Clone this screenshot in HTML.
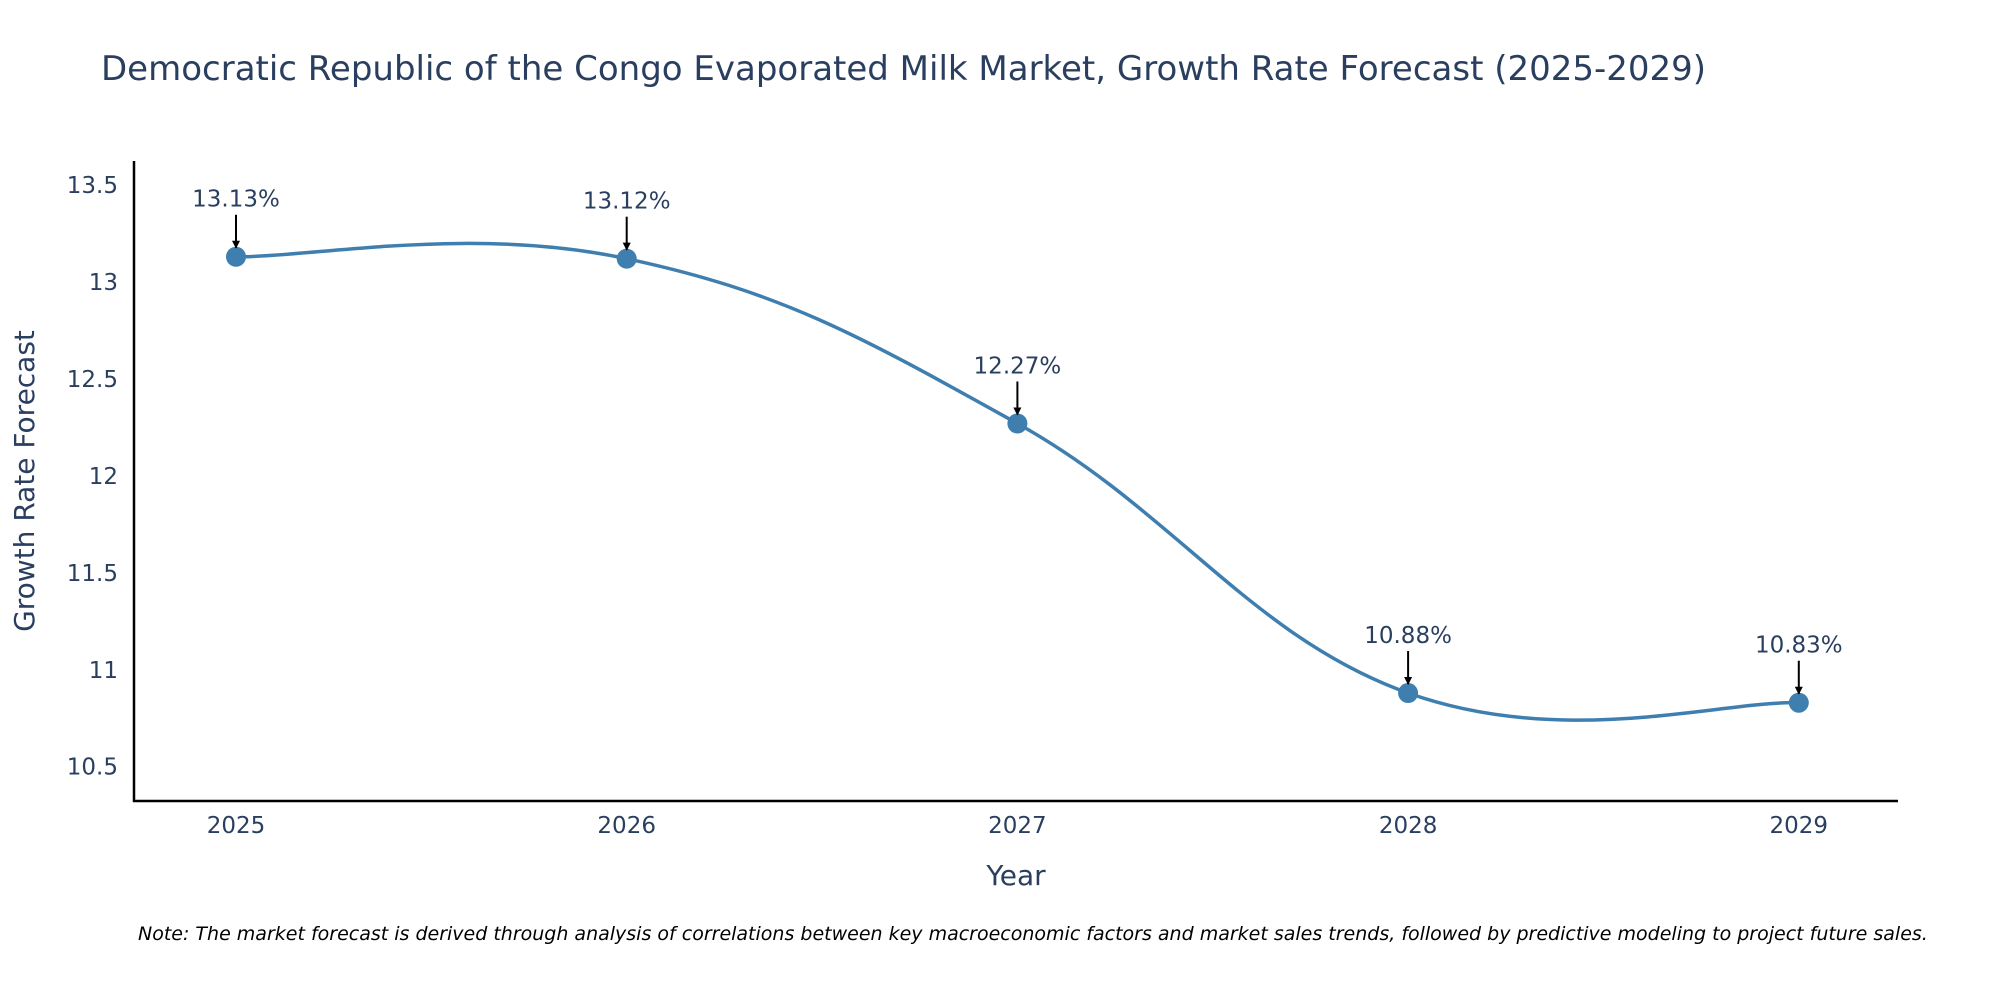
<!DOCTYPE html>
<html><head><meta charset="utf-8"><style>
body{margin:0;background:#fff;overflow:hidden;}
svg{font-family:"DejaVu Sans","Liberation Sans",sans-serif;}
</style></head><body>
<svg id="chart" width="2000" height="1000" viewBox="0 0 2000 1000">
<text x="101" y="80" font-size="34" fill="#2a3f5f">Democratic Republic of the Congo Evaporated Milk Market, Growth Rate Forecast (2025-2029)</text>
<g id="yticks"></g>
<g id="xticks"></g>
<line x1="134" y1="161" x2="134" y2="802" stroke="#000" stroke-width="2.5"/>
<line x1="133" y1="801" x2="1898" y2="801" stroke="#000" stroke-width="2.5"/>
<text x="34" y="481" font-size="28" fill="#2a3f5f" text-anchor="middle" transform="rotate(-90 34 481)">Growth Rate Forecast</text>
<text x="1016" y="885" font-size="28" fill="#2a3f5f" text-anchor="middle">Year</text>
<g id="series"></g>
<text x="138" y="940" font-size="19" font-style="italic" fill="#000">Note: The market forecast is derived through analysis of correlations between key macroeconomic factors and market sales trends, followed by predictive modeling to project future sales.</text>
<defs><marker id="ah" markerWidth="8" markerHeight="8" refX="7" refY="4" orient="auto" markerUnits="userSpaceOnUse"><path d="M0,0 L8,4 L0,8 Z" fill="#000"/></marker></defs>
</svg>
<script>
const years = [2025, 2026, 2027, 2028, 2029];
const growth = [13.13, 13.12, 12.27, 10.88, 10.83];
const labels = ["13.13%", "13.12%", "12.27%", "10.88%", "10.83%"];
const yTicks = [10.5, 11, 11.5, 12, 12.5, 13, 13.5];
const yTickLabels = ["10.5", "11", "11.5", "12", "12.5", "13", "13.5"];

const NS = "http://www.w3.org/2000/svg";
function X(v){ return 236 + (v - 2025) * 390.7; }
function Y(v){ return 185 + (13.5 - v) * 193.9; }
function mk(tag, attrs, parent){ const e = document.createElementNS(NS, tag); for (const k in attrs) e.setAttribute(k, attrs[k]); parent.appendChild(e); return e; }

const yg = document.getElementById('yticks');
yTicks.forEach((t, i) => {
  const e = mk('text', {x: 118, y: Y(t) + 8, 'font-size': 23, fill: '#2a3f5f', 'text-anchor': 'end'}, yg);
  
  
  e.textContent = yTickLabels[i];
});
const xg = document.getElementById('xticks');
years.forEach(y => {
  const e = mk('text', {x: X(y), y: 833, 'font-size': 23, fill: '#2a3f5f', 'text-anchor': 'middle'}, xg);
  
  
  e.textContent = String(y);
});

const pts = years.map((y, i) => [X(y), Y(growth[i])]);
let d = 'M' + pts[0][0] + ',' + pts[0][1];
const s = 0.2;
for (let i = 0; i < pts.length - 1; i++) {
  const p0 = pts[Math.max(0, i - 1)], p1 = pts[i], p2 = pts[i + 1], p3 = pts[Math.min(pts.length - 1, i + 2)];
  const c1 = [p1[0] + (p2[0] - p0[0]) * s, p1[1] + (p2[1] - p0[1]) * s];
  const c2 = [p2[0] - (p3[0] - p1[0]) * s, p2[1] - (p3[1] - p1[1]) * s];
  d += ' C' + c1[0] + ',' + c1[1] + ' ' + c2[0] + ',' + c2[1] + ' ' + p2[0] + ',' + p2[1];
}
const sg = document.getElementById('series');
const line = mk('path', {d: d, fill: 'none', stroke: '#3f7fb0', 'stroke-width': 3.5}, sg);


pts.forEach((p, i) => {
  const c = mk('circle', {cx: p[0], cy: p[1], r: 10, fill: '#3f7fb0'}, sg);
  
  
  const a = mk('line', {x1: p[0], y1: p[1] - 42, x2: p[0], y2: p[1] - 9, stroke: '#000', 'stroke-width': 2, 'marker-end': 'url(#ah)'}, sg);
  
  
  const t = mk('text', {x: p[0], y: p[1] - 50, 'font-size': 23, fill: '#2a3f5f', 'text-anchor': 'middle'}, sg);
  
  
  t.textContent = labels[i];
});
</script>
</body></html>
